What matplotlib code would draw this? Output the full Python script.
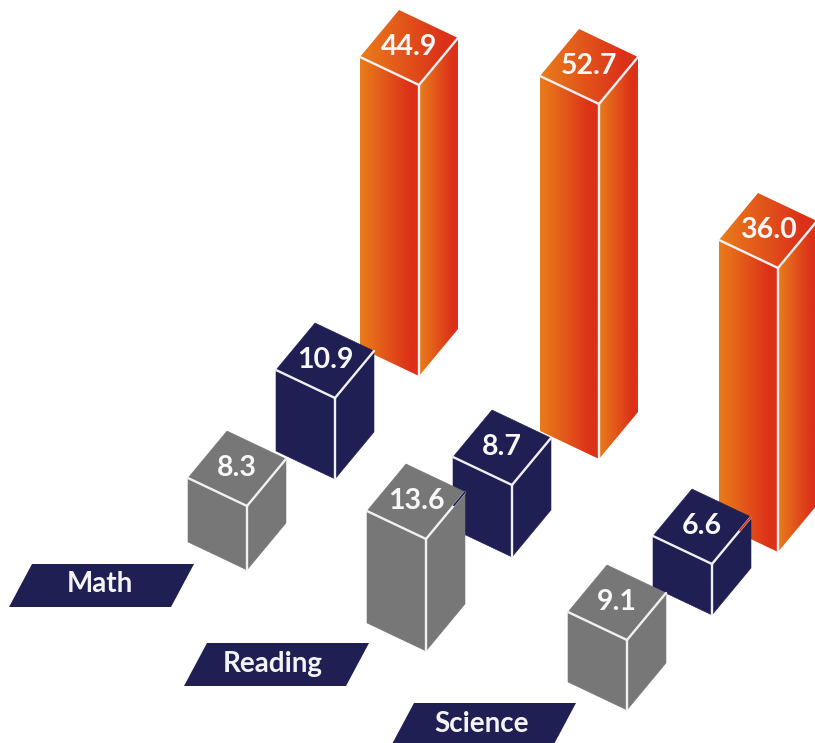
import numpy as np
import matplotlib
matplotlib.use("Agg")
import matplotlib.pyplot as plt
from matplotlib.colors import LinearSegmentedColormap
from matplotlib.patches import Polygon

# ---- data ----
subjects = ["Math", "Reading", "Science"]
orange_values = [44.9, 52.7, 36.0]
navy_values = [10.9, 8.7, 6.6]
gray_values = [8.3, 13.6, 9.1]

# Drawn bar heights (the source is not to scale)
orange_heights = [291, 355, 284]
navy_heights = [81, 72, 51]
gray_heights = [64, 112, 70]

# ---- layout (pixels) ----
orange_base = [(419, 376), (599, 459), (778, 552)]
navy_base = [(335, 479), (512, 557), (712, 615)]
gray_base = [(247, 570), (426, 651), (627, 710)]
band_corner = [(32, 564), (207, 643), (414, 703)]
band_text = [(100, 584), (273, 664), (482, 724)]
LEFT = np.array([-59, -28])
RIGHT = np.array([39, -47])
BAND_W, BAND_H, BAND_SKEW = 162, 43, 23

NAVY = "#1f1f54"
GRAY = "#777777"
EDGE = "#f1f1f4"
ORANGE_CMAP = LinearSegmentedColormap.from_list(
    "o", [(0, "#e97d1b"), (0.85, "#dc3119"), (1, "#dc3119")])

plt.rcParams["font.family"] = ["Lato", "DejaVu Sans"]
fig = plt.figure(figsize=(8.15, 7.43), dpi=100)
ax = fig.add_axes([0, 0, 1, 1])
ax.set_xlim(0, 815)
ax.set_ylim(743, 0)
ax.axis("off")

z = [2]


def next_z():
    z[0] += 1
    return z[0]


def face(points, color):
    points = np.array(points, dtype=float)
    zo = next_z()
    if color == "gradient":
        poly = Polygon(points, closed=True, fc="none", ec="none", transform=ax.transData)
        ax.add_patch(poly)
        extent = (points[:, 0].min(), points[:, 0].max(),
                  points[:, 1].max(), points[:, 1].min())
        im = ax.imshow(np.linspace(0, 1, 256).reshape(1, -1), cmap=ORANGE_CMAP,
                       extent=extent, aspect="auto", zorder=zo, vmin=0, vmax=1)
        im.set_clip_path(poly)
    else:
        ax.add_patch(Polygon(points, closed=True, fc=color, ec=color, lw=0.4, zorder=zo))


def prism(base, height, value, color, tint=None):
    b = np.array(base, dtype=float)
    c = b - np.array([0, height])
    l, r = c + LEFT, c + RIGHT
    face([c, l, b + LEFT, b], color)
    face([c, r, b + RIGHT, b], color)
    face([c, l, l + RIGHT, r], color)
    zo = next_z()
    for p, q in ((c, l), (c, r), (c, b)):
        ax.plot([p[0], q[0]], [p[1], q[1]], color=EDGE, lw=1.7,
                solid_capstyle="round", zorder=zo)
    if tint is not None:
        s = c + 0.72 * (r - c)
        ax.plot([s[0], r[0]], [s[1], r[1]], color=tint, lw=1.3, zorder=zo)
    mid = c + (LEFT + RIGHT) / 2
    ax.text(mid[0], mid[1] - 0.5, f"{value:.1f}", color="#f8f8f8", fontsize=20.5,
            fontweight="bold", ha="center", va="center", zorder=next_z())


for i in range(3):
    prism(orange_base[i], orange_heights[i], orange_values[i], "gradient")
for i in range(3):
    prism(navy_base[i], navy_heights[i], navy_values[i], NAVY,
          tint="#dc3119" if i == 2 else None)
for i in range(3):
    prism(gray_base[i], gray_heights[i], gray_values[i], GRAY,
          tint=NAVY if i == 1 else None)

for name, (x, y), (tx, ty) in zip(subjects, band_corner, band_text):
    ax.add_patch(Polygon([(x, y), (x + BAND_W, y),
                          (x + BAND_W - BAND_SKEW, y + BAND_H),
                          (x - BAND_SKEW, y + BAND_H)],
                         closed=True, fc=NAVY, ec="none", zorder=next_z()))
    ax.text(tx, ty, name, color="#f4f4f6", fontsize=20, fontweight="bold",
            ha="center", va="center", zorder=next_z())

ax.set_xlim(0, 815)
ax.set_ylim(743, 0)
fig.savefig("out.png", dpi=100)
